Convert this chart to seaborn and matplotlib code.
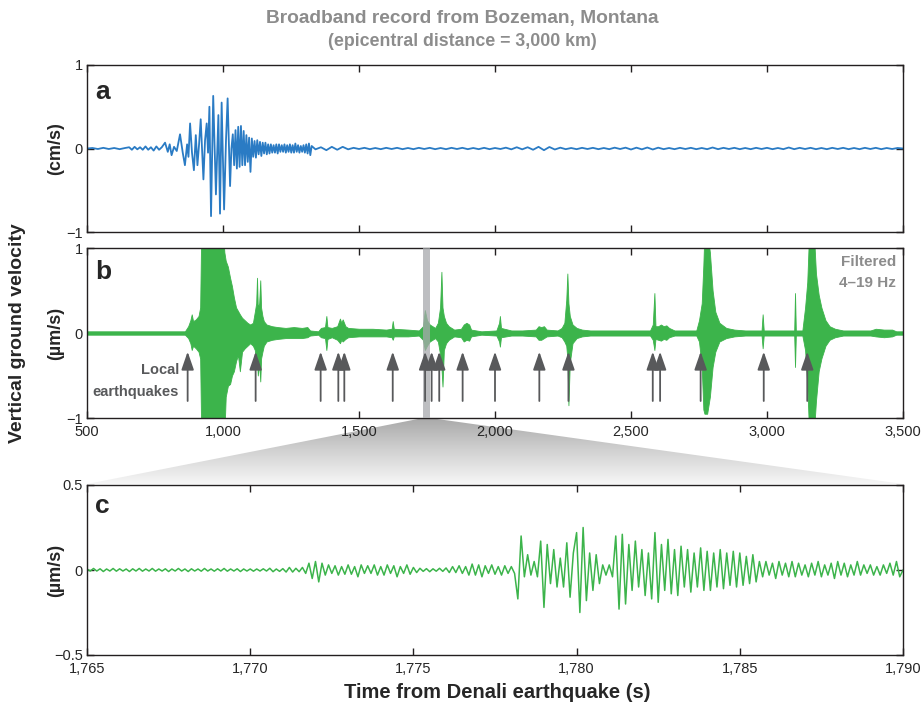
import numpy as np
import pandas as pd
import matplotlib
matplotlib.use("Agg")
import matplotlib.pyplot as plt
import seaborn as sns
from matplotlib import font_manager
from matplotlib.colors import LinearSegmentedColormap
from matplotlib.patches import Polygon

# ---------------- data ----------------
# Panel a: broadband velocity (cm/s), successive extremes (time s, value)
a_t_event = [500, 520, 540, 560, 580, 600, 620, 640,
             655, 665, 675, 685, 695, 705, 715, 725, 735, 745, 755, 765, 775,
             787, 797, 804, 811, 820, 830,
             842, 852, 860, 868, 873, 879, 886, 893, 900, 906, 912, 918, 928, 934, 940, 945,
             950, 956, 964, 974, 983, 989, 995, 1004, 1011, 1017, 1026, 1031, 1036, 1041,
             1046, 1051, 1056, 1061, 1066, 1071, 1076, 1081, 1086, 1091, 1096, 1101, 1106,
             1111, 1116, 1121, 1126, 1131, 1136, 1141, 1146, 1151, 1156, 1161, 1166, 1171,
             1176, 1181, 1186, 1191, 1196, 1201, 1206, 1211, 1216, 1221, 1226, 1231, 1236,
             1241, 1246, 1251, 1256, 1261, 1266, 1271, 1276, 1281, 1286, 1291, 1296, 1301,
             1306, 1311, 1316, 1321, 1326]
a_v_event = [0.0, 0.006, -0.006, 0.008, -0.006, 0.006, -0.008, 0.006,
             0.015, -0.015, 0.02, -0.01, 0.015, -0.015, 0.025, -0.015, 0.015, -0.025, 0.025, -0.015, 0.015,
             0.07, -0.04, 0.05, -0.08, 0.02, -0.03,
             0.17, -0.05, -0.2, 0.05, -0.1, 0.3, -0.05, -0.26, 0.16, -0.2, 0.05, 0.35, -0.37, 0.1, 0.3, -0.05,
             0.5, -0.81, 0.63, -0.55, 0.4, -0.78, 0.55, -0.73, 0.1, 0.6, -0.45, 0.0, 0.17, -0.2,
             0.22, -0.24, 0.26, -0.22, 0.27, -0.2, 0.21, -0.2, 0.16, -0.16, 0.13, -0.28, 0.12,
             -0.1, 0.09, -0.11, 0.1, -0.07, 0.08, -0.09, 0.07, -0.06, 0.07, -0.07, 0.05, -0.06,
             0.05, -0.05, 0.04, -0.05, 0.05, -0.06, 0.05, -0.04, 0.04, -0.04, 0.05, -0.05, 0.04,
             -0.04, 0.05, -0.05, 0.04, -0.05, 0.06, -0.04, 0.04, -0.05, 0.03, -0.04, 0.04, -0.05,
             0.05, -0.06, 0.06, -0.08, 0.03]
# quiet coda, every 20 s from 1340 to 3500
a_quiet = [-0.01, 0.015, -0.02, 0.02, -0.015, 0.02, -0.01, 0.008, -0.006, 0.008,
           -0.008, 0.006, -0.008, 0.008, -0.006, 0.008, -0.008, 0.006, -0.008, 0.008,
           -0.006, 0.008, -0.008, 0.006, -0.008, 0.008, -0.006, 0.008, -0.008, 0.006,
           -0.008, 0.008, -0.008, 0.006, -0.006, 0.01, -0.01, 0.015, -0.01, 0.015,
           -0.015, 0.02, -0.02, 0.018, -0.012, 0.01, -0.008, 0.006, -0.008, 0.008,
           -0.006, 0.008, -0.008, 0.006, -0.008, 0.01, -0.006, 0.01, -0.012, 0.01,
           -0.01, 0.012, -0.012, 0.01, -0.008, 0.006, -0.008, 0.008, -0.006, 0.008,
           -0.008, 0.006, -0.008, 0.012, -0.008, 0.008, -0.006, 0.008, -0.008, 0.006,
           -0.008, 0.008, -0.006, 0.008, -0.008, 0.006, -0.008, 0.012, -0.008, 0.008,
           -0.006, 0.008, -0.008, 0.006, -0.008, 0.008, -0.006, 0.008, -0.008, 0.006,
           -0.008, 0.008, -0.006, 0.008, -0.008, 0.006, -0.006, 0.006, 0.0]
a_t = a_t_event + list(range(1340, 3501, 20))
a_v = a_v_event + a_quiet

# Panel b: filtered 4-19 Hz (um/s), envelope of the dense trace
b_t = [500, 860, 872, 880, 885, 890, 900, 910, 916, 920, 1000, 1005, 1010, 1018, 1026, 1033,
       1040, 1048, 1055, 1062, 1070, 1080, 1090, 1100, 1110, 1117, 1122, 1125, 1128, 1133,
       1137, 1140, 1145, 1150, 1160, 1180, 1200, 1230, 1260, 1290, 1310, 1320, 1350, 1360,
       1375, 1380, 1384, 1400, 1420, 1430, 1435, 1440, 1450, 1460, 1500, 1550, 1600, 1620,
       1624, 1628, 1680, 1720, 1735, 1742, 1750, 1760, 1770, 1780, 1790, 1798, 1803, 1807,
       1812, 1820, 1830, 1850, 1875, 1885, 1895, 1905, 1912, 1950, 2005, 2015, 2018, 2022,
       2060, 2100, 2150, 2160, 2170, 2180, 2190, 2230, 2245, 2255, 2262, 2266, 2270, 2275,
       2285, 2300, 2320, 2350, 2400, 2500, 2570, 2580, 2586, 2590, 2600, 2610, 2620, 2630,
       2640, 2660, 2740, 2750, 2760, 2766, 2770, 2780, 2790, 2800, 2810, 2825, 2850, 2880,
       2920, 2980, 2984, 2988, 3100, 3103, 3106, 3130, 3140, 3148, 3155, 3172, 3180, 3190,
       3200, 3215, 3230, 3250, 3280, 3380, 3400, 3430, 3460, 3475, 3500]
b_hi = [0.02, 0.02, 0.08, 0.15, 0.22, 0.14, 0.16, 0.2, 0.3, 1.2, 1.2, 0.95, 0.85, 0.78, 0.65, 0.55,
        0.42, 0.3, 0.26, 0.22, 0.18, 0.15, 0.12, 0.1, 0.12, 0.25, 0.35, 0.65, 0.3, 0.35,
        0.62, 0.3, 0.2, 0.14, 0.1, 0.08, 0.07, 0.06, 0.07, 0.06, 0.07, 0.03, 0.02, 0.06,
        0.07, 0.2, 0.07, 0.06, 0.08, 0.17, 0.12, 0.16, 0.08, 0.06, 0.05, 0.05, 0.04, 0.05,
        0.14, 0.05, 0.04, 0.03, 0.08, 0.27, 0.15, 0.1, 0.08, 0.06, 0.12, 0.3, 0.72, 0.3,
        0.2, 0.12, 0.08, 0.04, 0.05, 0.1, 0.12, 0.1, 0.04, 0.02, 0.03, 0.12, 0.2, 0.06,
        0.03, 0.03, 0.04, 0.08, 0.07, 0.08, 0.04, 0.03, 0.06, 0.12, 0.39, 0.7, 0.35, 0.2,
        0.1, 0.06, 0.04, 0.03, 0.03, 0.03, 0.03, 0.1, 0.47, 0.08, 0.08, 0.1, 0.08, 0.09,
        0.06, 0.03, 0.03, 0.15, 0.35, 0.8, 1.2, 1.2, 0.95, 0.5, 0.25, 0.12, 0.06, 0.04,
        0.03, 0.03, 0.22, 0.03, 0.03, 0.47, 0.03, 0.03, 0.3, 0.6, 1.2, 1.2, 0.7, 0.45,
        0.3, 0.15, 0.08, 0.05, 0.03, 0.03, 0.05, 0.04, 0.04, 0.02, 0.02]
b_lo = [-0.02, -0.02, -0.06, -0.12, -0.2, -0.15, -0.18, -0.22, -0.3, -1.2, -1.2, -1.2, -0.75, -0.62, -0.6, -0.5,
        -0.45, -0.33, -0.26, -0.45, -0.22, -0.18, -0.15, -0.12, -0.15, -0.2, -0.4, -0.3, -0.5, -0.35,
        -0.57, -0.3, -0.22, -0.15, -0.1, -0.08, -0.07, -0.06, -0.06, -0.06, -0.05, -0.03, -0.02, -0.05,
        -0.06, -0.2, -0.07, -0.05, -0.08, -0.12, -0.08, -0.1, -0.07, -0.05, -0.04, -0.04, -0.04, -0.05,
        -0.08, -0.04, -0.04, -0.03, -0.08, -0.2, -0.15, -0.1, -0.08, -0.06, -0.1, -0.25, -0.4, -0.63,
        -0.2, -0.12, -0.08, -0.04, -0.05, -0.1, -0.08, -0.09, -0.04, -0.02, -0.03, -0.1, -0.16, -0.05,
        -0.03, -0.03, -0.04, -0.08, -0.08, -0.06, -0.04, -0.03, -0.05, -0.1, -0.15, -0.3, -0.85, -0.35,
        -0.12, -0.06, -0.04, -0.03, -0.03, -0.03, -0.03, -0.08, -0.2, -0.07, -0.08, -0.09, -0.07, -0.08,
        -0.05, -0.03, -0.03, -0.1, -0.4, -0.9, -0.95, -0.95, -0.75, -0.4, -0.22, -0.1, -0.06, -0.04,
        -0.03, -0.03, -0.18, -0.03, -0.03, -0.4, -0.03, -0.03, -0.2, -0.6, -1.2, -1.2, -0.8, -0.45,
        -0.3, -0.15, -0.08, -0.05, -0.03, -0.03, -0.04, -0.05, -0.04, -0.02, -0.02]
arrow_t = [870, 1120, 1359, 1424, 1446, 1624, 1743, 1767, 1795, 1881, 2000,
           2163, 2270, 2580, 2607, 2756, 2988, 3148]
zoom_window = [1737, 1762]

# Panel c: zoom, samples every 0.1 s from 1765.0 to 1790.0 (um/s)
c_v = [
    0.006, -0.006, 0.009, -0.006, 0.007, -0.009, 0.006, -0.006, 0.009, -0.007,   # 1765
    0.007, -0.006, 0.006, -0.009, 0.007, -0.006, 0.009, -0.007, 0.006, -0.006,   # 1766
    0.009, -0.007, 0.006, -0.006, 0.007, -0.009, 0.006, -0.006, 0.009, -0.006,   # 1767
    0.006, -0.009, 0.007, -0.006, 0.006, -0.007, 0.009, -0.006, 0.006, -0.007,   # 1768
    0.007, -0.006, 0.009, -0.007, 0.006, -0.006, 0.007, -0.009, 0.006, -0.006,   # 1769
    0.006, -0.007, 0.006, -0.006, 0.007, -0.006, 0.01, -0.01, 0.006, -0.008,     # 1770
    0.008, -0.012, 0.015, -0.012, 0.01, -0.01, 0.015, -0.02, 0.04, -0.05,       # 1771
    0.05, -0.07, 0.04, -0.03, 0.03, -0.02, 0.025, -0.03, 0.02, -0.025,          # 1772
    0.03, -0.025, 0.02, -0.04, 0.03, -0.02, 0.025, -0.02, 0.03, -0.03,          # 1773
    0.02, -0.03, 0.03, -0.02, 0.025, -0.04, 0.02, -0.02, 0.03, -0.025,          # 1774
    0.015, -0.015, 0.01, -0.008, 0.008, -0.01, 0.007, -0.007, 0.01, -0.008,     # 1775
    0.012, -0.015, 0.02, -0.015, 0.025, -0.02, 0.02, -0.03, 0.035, -0.03,       # 1776
    0.03, -0.04, 0.025, -0.02, 0.03, -0.025, 0.02, -0.03, 0.025, -0.02,         # 1777
    0.02, -0.02, -0.17, 0.2, -0.04, 0.09, -0.03, 0.05, -0.04, 0.17,             # 1778
    -0.22, 0.15, -0.08, 0.12, -0.1, 0.07, -0.1, 0.16, -0.16, 0.1,               # 1779
    0.22, -0.25, 0.25, -0.18, 0.1, -0.12, 0.09, -0.08, 0.03, -0.03,             # 1780
    0.03, -0.04, 0.2, -0.23, 0.21, -0.2, 0.15, -0.12, 0.17, -0.1,               # 1781
    0.12, -0.15, 0.1, -0.17, 0.22, -0.19, 0.15, -0.12, 0.18, -0.14,             # 1782
    0.12, -0.15, 0.14, -0.1, 0.12, -0.13, 0.1, -0.1, 0.13, -0.12,               # 1783
    0.11, -0.12, 0.1, -0.1, 0.12, -0.11, 0.1, -0.09, 0.11, -0.1,                # 1784
    0.1, -0.09, 0.08, -0.08, 0.09, -0.07, 0.05, -0.04, 0.05, -0.03,             # 1785
    0.04, -0.05, 0.05, -0.03, 0.04, -0.04, 0.05, -0.04, 0.04, -0.03,            # 1786
    0.03, -0.04, 0.04, -0.03, 0.05, -0.04, 0.03, -0.03, 0.04, -0.05,            # 1787
    0.05, -0.03, 0.04, -0.04, 0.03, -0.03, 0.05, -0.03, 0.03, -0.02,            # 1788
    0.03, -0.03, 0.02, -0.03, 0.03, -0.02, 0.04, -0.03, 0.05, -0.04,            # 1789
    0.0]
c_t = [1765 + i / 10 for i in range(len(c_v))]

ab_xticks = [500, 1000, 1500, 2000, 2500, 3000, 3500]
ab_xticklabels = ["500", "1,000", "1,500", "2,000", "2,500", "3,000", "3,500"]
c_xticks = [1765, 1770, 1775, 1780, 1785, 1790]
c_xticklabels = ["1,765", "1,770", "1,775", "1,780", "1,785", "1,790"]
a_yticks, a_yticklabels = [-1, 0, 1], ["\u22121", "0", "1"]
c_yticks, c_yticklabels = [-0.5, 0, 0.5], ["\u22120.5", "0", "0.5"]

# ---------------- style ----------------
sns.set_style("ticks")
names = {f.name for f in font_manager.fontManager.ttflist}
NARROW = "Liberation Sans Narrow" if "Liberation Sans Narrow" in names else "Liberation Sans"
plt.rcParams["font.family"] = ["Liberation Sans", "DejaVu Sans"]

BLUE = "#2a7bc4"
GREEN = "#3cb44b"
GRAY_T = "#8c8c8c"
ARROW = "#58595b"

W, H = 924, 708
fig = plt.figure(figsize=(W / 100, H / 100), dpi=100)


def fx(px):
    return px / W


def fy(py):
    return 1 - py / H


L, R = 87, 903
ax_a = fig.add_axes([fx(L), fy(232), fx(R - L), (232 - 65) / H], zorder=2)
ax_b = fig.add_axes([fx(L), fy(418), fx(R - L), (418 - 248) / H], zorder=2)
ax_c = fig.add_axes([fx(L), fy(655), fx(R - L), (655 - 485) / H], zorder=2)

# funnel overlay
ov = fig.add_axes([0, 0, 1, 1], zorder=1)
ov.set_xlim(0, W)
ov.set_ylim(H, 0)
ov.axis("off")
cmap = LinearSegmentedColormap.from_list("fun", ["#a9a9a9", "#d2d2d2", "#f6f6f6"])
grad = np.linspace(0, 1, 200).reshape(-1, 1)
img = ov.imshow(grad, extent=[L, R, 484, 418], cmap=cmap, aspect="auto",
                interpolation="bilinear", origin="upper")
poly = Polygon([(423, 418), (430, 418), (R, 484), (L, 484)], closed=True,
               transform=ov.transData, facecolor="none", edgecolor="none")
ov.add_patch(poly)
img.set_clip_path(poly)

# panel a
df_a = pd.DataFrame({"t": a_t, "v": a_v})
sns.lineplot(data=df_a, x="t", y="v", ax=ax_a, color=BLUE, linewidth=1.3,
             sort=False, estimator=None)
# panel b
ax_b.fill_between(b_t, b_lo, b_hi, color=GREEN, linewidth=0.6, edgecolor=GREEN, zorder=2)
sns.lineplot(x=[500, 3500], y=[0, 0], ax=ax_b, color=GREEN, linewidth=1.2, zorder=2)
ax_b.axvspan(zoom_window[0], zoom_window[1], color="#a7a9ac", alpha=0.75, zorder=3, lw=0)
for t in arrow_t:
    ax_b.annotate("", xy=(t, -0.22), xytext=(t, -0.8),
                  arrowprops=dict(arrowstyle="-|>,head_length=1.1,head_width=0.38",
                                  color=ARROW, lw=1.3, mutation_scale=10,
                                  shrinkA=0, shrinkB=0), zorder=4)
# panel c
df_c = pd.DataFrame({"t": c_t, "v": c_v})
sns.lineplot(data=df_c, x="t", y="v", ax=ax_c, color=GREEN, linewidth=1.1,
             sort=False, estimator=None)

for ax in (ax_a, ax_b):
    ax.set_xlim(500, 3500)
    ax.set_xticks(ab_xticks)
    ax.set_ylim(-1, 1)
    ax.set_yticks(a_yticks)
    ax.set_yticklabels(a_yticklabels)
ax_a.set_xticklabels([])
ax_b.set_xticklabels(ab_xticklabels)
ax_c.set_xlim(1765, 1790)
ax_c.set_xticks(c_xticks)
ax_c.set_xticklabels(c_xticklabels)
ax_c.set_ylim(-0.5, 0.5)
ax_c.set_yticks(c_yticks)
ax_c.set_yticklabels(c_yticklabels)

for ax in (ax_a, ax_b, ax_c):
    ax.set_xlabel("")
    ax.set_ylabel("")
    for s in ax.spines.values():
        s.set_linewidth(1.0)
        s.set_color("#231f20")
    ax.tick_params(axis="both", direction="in", length=5, width=1.0, color="#231f20",
                   top=True, right=True, labelsize=10.5)
    ax.tick_params(axis="x", pad=5)
    ax.tick_params(axis="y", pad=3)
    for lab in ax.get_xticklabels() + ax.get_yticklabels():
        lab.set_fontfamily(NARROW)

fig.text(fx(95), fy(92), "a", fontsize=19, fontweight="bold", ha="left", va="center")
fig.text(fx(95), fy(272), "b", fontsize=19, fontweight="bold", ha="left", va="center")
fig.text(fx(95), fy(506), "c", fontsize=19, fontweight="bold", ha="left", va="center")

fig.text(fx(56), fy(149), "(cm/s)", rotation=90, fontsize=13, fontweight="bold",
         ha="center", va="center")
fig.text(fx(56), fy(333), "(\u00b5m/s)", rotation=90, fontsize=13, fontweight="bold",
         ha="center", va="center")
fig.text(fx(56), fy(570), "(\u00b5m/s)", rotation=90, fontsize=13, fontweight="bold",
         ha="center", va="center")
fig.text(fx(18), fy(333), "Vertical ground velocity", rotation=90, fontsize=14,
         fontweight="bold", ha="center", va="center")
fig.text(fx(497), fy(692), "Time from Denali earthquake (s)", fontsize=14.5,
         fontweight="bold", ha="center", va="center", family=NARROW)

fig.text(fx(462), fy(18), "Broadband record from Bozeman, Montana", fontsize=13.8,
         fontweight="bold", ha="center", va="center", color=GRAY_T, family=NARROW)
fig.text(fx(462), fy(41), "(epicentral distance = 3,000 km)", fontsize=12.8,
         fontweight="bold", ha="center", va="center", color=GRAY_T, family=NARROW)

fig.text(fx(179), fy(370), "Local", fontsize=10.5, fontweight="bold", ha="right",
         va="center", color=ARROW, family=NARROW)
fig.text(fx(179), fy(392), "earthquakes", fontsize=10.5, fontweight="bold", ha="right",
         va="center", color=ARROW, family=NARROW)
fig.text(fx(896), fy(262), "Filtered", fontsize=11, fontweight="bold", ha="right",
         va="center", color=GRAY_T, family=NARROW)
fig.text(fx(896), fy(283), "4\u201319 Hz", fontsize=11, fontweight="bold", ha="right",
         va="center", color=GRAY_T, family=NARROW)

fig.savefig("out.png", dpi=100, facecolor="white")
